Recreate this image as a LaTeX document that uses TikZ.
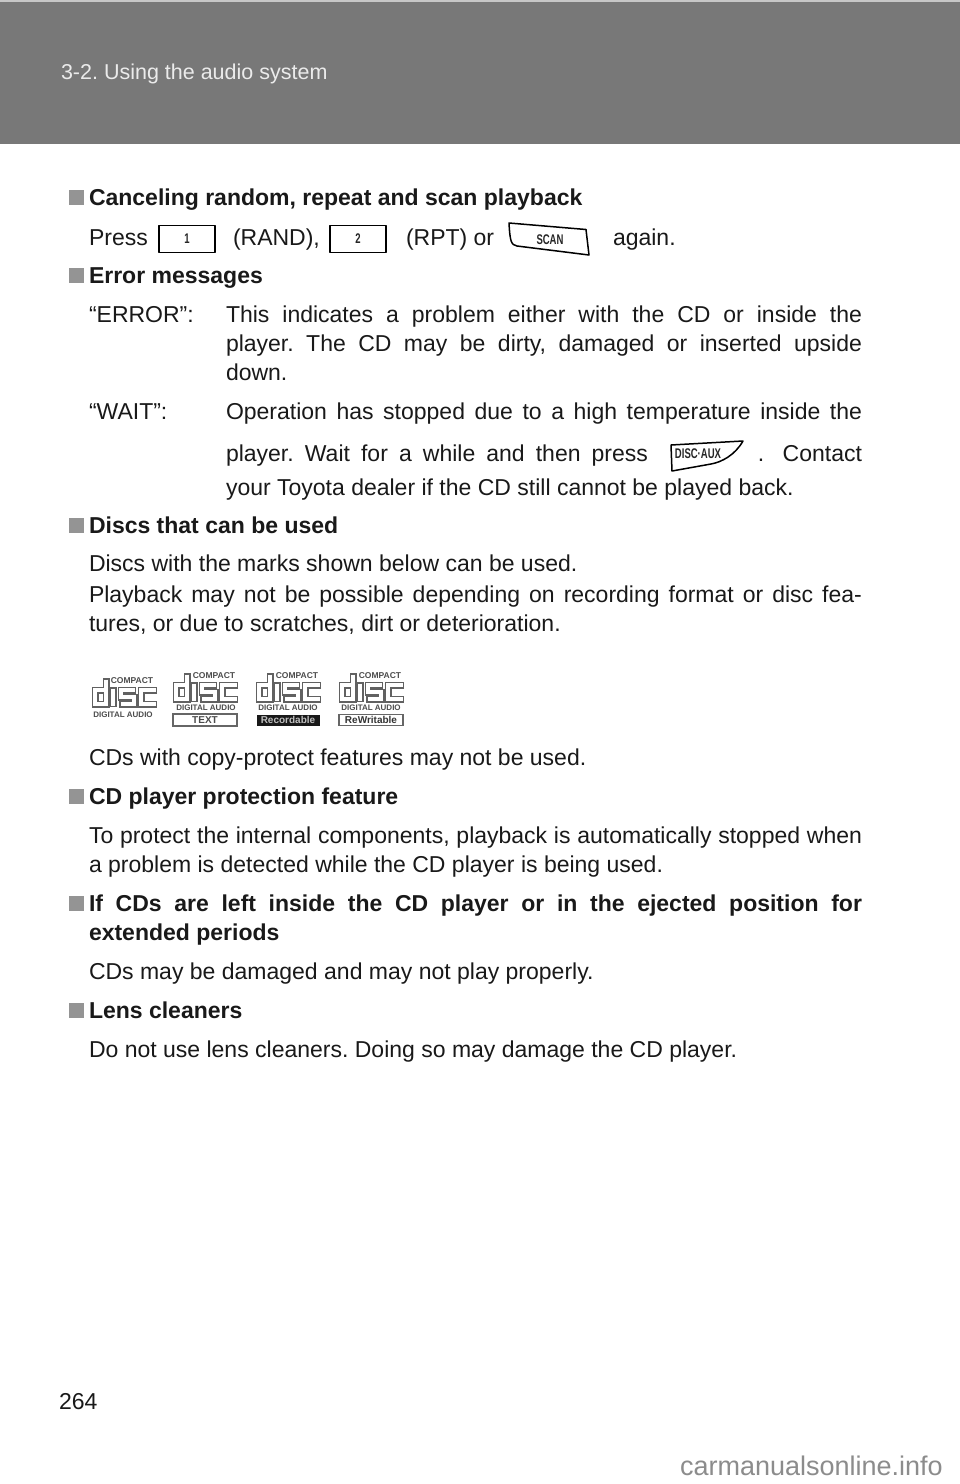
\documentclass[tikz,border=0pt]{standalone}
\usepackage{fontspec}
\setmainfont{Liberation Sans}
\frenchspacing
\newcommand{\bodysz}{\fontsize{23}{28}\selectfont}
\newcommand{\discpaths}[1]{%
  \draw[#1] (14,-3+\dz) -- (14,23) -- (3,23) -- (3,9) -- (14,9);
  \draw[#1] (21,6+\dz) -- (21,26-\dz);
  \draw[#1] (44-\dz,9) -- (29,9) -- (29,16) -- (42,16) -- (42,23) -- (27+\dz,23);
  \draw[#1] (65-\dz,9) -- (49,9) -- (49,23) -- (65-\dz,23);
}
\tikzset{
  x=1pt,y=-1pt,
  txt/.style={anchor=base west,inner sep=0pt,outer sep=0pt,text=black!90,font=\bodysz},
  hdr/.style={txt,font=\bodysz\bfseries},
  sqbul/.style={fill=black!42,draw=none},
  key/.style={draw=black,line width=1.5pt,fill=white,line join=round},
  keytxt/.style={inner sep=0pt,font=\fontsize{14}{14}\selectfont\bfseries,text=black!85,xscale=.68},
  logotxt/.style={inner sep=0pt,font=\fontsize{8}{8}\selectfont\bfseries,text=black!70},
  compacttxt/.style={inner sep=0pt,font=\fontsize{8.5}{8.5}\selectfont\bfseries,text=black!70},
  darkstroke/.style={draw=black!62,line width=7pt,line cap=butt,line join=miter},
  whitestroke/.style={draw=white,line width=3.6pt,line cap=butt,line join=miter},
  pics/disclogo/.style={code={
    \def\dz{0}\discpaths{darkstroke}
    \def\dz{1.5}\discpaths{whitestroke}
  }},
}
\begin{document}
\begin{tikzpicture}
\useasboundingbox (0,0) rectangle (960,1484);
\fill[white] (0,0) rectangle (960,1484);
% header band
\fill[black!53] (0,2) rectangle (960,144);
\fill[black!22] (0,0) rectangle (960,2);
\node[txt,text=white!92!black,font=\fontsize{21.5}{26}\selectfont] (chap) at (61,79) {3-2. Using the audio system};
\node[txt,font=\fontsize{23}{26}\selectfont] (pageno) at (59,1409) {264};

% section 1
\fill[sqbul] (69,190) rectangle (84,205);
\node[hdr] (h1) at (89,205) {Canceling random, repeat and scan playback};
\node[txt] (press) at (89,245) {Press};
\node[key,minimum width=56pt,minimum height=27pt,inner sep=0pt] (k1) at (187,239) {};
\node[keytxt] at (k1) {1};
\node[txt] (rand) at (233,245) {(RAND),};
\node[key,minimum width=56pt,minimum height=27pt,inner sep=0pt] (k2) at (358,239) {};
\node[keytxt] at (k2) {2};
\node[txt] (rpt) at (406,245) {(RPT) or};
\draw[key] (509,223) -- (586,229.5) -- (589,255) -- (517,246) .. controls (511,245) and (510,241) .. (509,223) -- cycle;
\node[keytxt] (scan) at (550,240) {SCAN};
\node[txt] (again) at (613,245) {again.};

% section 2
\fill[sqbul] (69,268) rectangle (84,283);
\node[hdr] (h2) at (89,283) {Error messages};
\node[txt] (err) at (89,322) {“ERROR”:};
\node[txt] (e1) at (226,322) {\hbox to 636pt{This indicates a problem either with the CD or inside the}};
\node[txt] (e2) at (226,351) {\hbox to 636pt{player. The CD may be dirty, damaged or inserted upside}};
\node[txt] (e3) at (226,380) {down.};
\node[txt] (wait) at (89,419) {“WAIT”:};
\node[txt] (w1) at (226,419) {\hbox to 636pt{Operation has stopped due to a high temperature inside the}};
\node[txt] (w2) at (226,461) {\hbox to 422pt{player. Wait for a while and then press}};
\draw[key] (671,445) -- (743,441) .. controls (735,455) and (722,462) .. (711,464) -- (672,471) -- cycle;
\node[keytxt] (dax) at (698,454) {DISC·AUX};
\node[txt,anchor=base east] (w2b) at (862,461) {.\hspace{0.8em}Contact};
\node[txt] (w3) at (226,495) {your Toyota dealer if the CD still cannot be played back.};

% section 3
\fill[sqbul] (69,518) rectangle (84,533);
\node[hdr] (h3) at (89,533) {Discs that can be used};
\node[txt] (d1) at (89,571) {Discs with the marks shown below can be used.};
\node[txt] (d2) at (89,602) {\hbox to 773pt{Playback may not be possible depending on recording format or disc fea-}};
\node[txt] (d3) at (89,631) {tures, or due to scratches, dirt or deterioration.};

% disc logos
\pic at (92,681) {disclogo};
\node[compacttxt] (l1a) at (132,681) {COMPACT};
\node[logotxt] (l1b) at (123,715) {DIGITAL AUDIO};
\pic at (173,676) {disclogo};
\node[compacttxt] (l2a) at (214,676) {COMPACT};
\node[logotxt] (l2b) at (206,708) {DIGITAL AUDIO};
\node[draw=black!60,line width=1.2pt,minimum width=64pt,minimum height=12pt,inner sep=0pt,font=\fontsize{10}{10}\selectfont\bfseries,text=black!70] (l2c) at (205,720) {TEXT};
\pic at (256,676) {disclogo};
\node[compacttxt] (l3a) at (297,676) {COMPACT};
\node[logotxt] (l3b) at (288,708) {DIGITAL AUDIO};
\node[fill=black!90,minimum width=63pt,minimum height=11pt,inner sep=0pt,font=\fontsize{10}{10}\selectfont\bfseries,text=black!25] (l3c) at (288,720) {Recordable};
\pic at (339,676) {disclogo};
\node[compacttxt] (l4a) at (380,676) {COMPACT};
\node[logotxt] (l4b) at (371,708) {DIGITAL AUDIO};
\node[draw=black!60,line width=1.2pt,minimum width=64pt,minimum height=11pt,inner sep=0pt,font=\fontsize{10}{10}\selectfont\bfseries,text=black!80] (l4c) at (371,720) {ReWritable};

\node[txt] (d4) at (89,765) {CDs with copy-protect features may not be used.};

% section 4
\fill[sqbul] (69,789) rectangle (84,804);
\node[hdr] (h4) at (89,804) {CD player protection feature};
\node[txt] (p1) at (89,843) {\hbox to 773pt{To protect the internal components, playback is automatically stopped when}};
\node[txt] (p2) at (89,872) {a problem is detected while the CD player is being used.};

% section 5
\fill[sqbul] (69,896) rectangle (84,911);
\node[hdr] (h5) at (89,911) {\hbox to 773pt{If CDs are left inside the CD player or in the ejected position for}};
\node[hdr] (h5b) at (89,940) {extended periods};
\node[txt] (q1) at (89,979) {CDs may be damaged and may not play properly.};

% section 6
\fill[sqbul] (69,1003) rectangle (84,1018);
\node[hdr] (h6) at (89,1018) {Lens cleaners};
\node[txt] (r1) at (89,1057) {Do not use lens cleaners. Doing so may damage the CD player.};

% footer
\node[txt,anchor=base west,text=black!45,font=\fontsize{27}{30}\selectfont] (wm) at (680,1475) {carmanualsonline.info};
\end{tikzpicture}
\end{document}
